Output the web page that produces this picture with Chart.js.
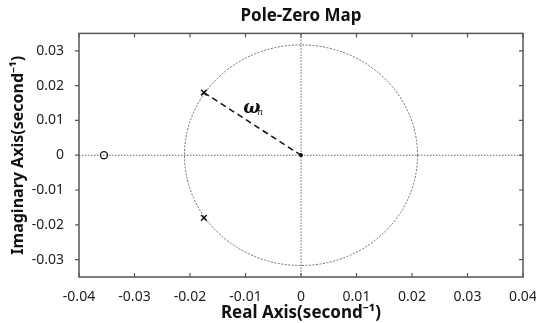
<!DOCTYPE html>
<html>
<head>
<meta charset="utf-8">
<script src="https://cdn.jsdelivr.net/npm/chart.js@4/dist/chart.umd.min.js"></script>
<style>
  html, body { margin: 0; padding: 0; background: #fff; }
  #wrap { width: 536px; height: 323px; }
</style>
</head>
<body>
<div id="wrap"><canvas id="pzChart"></canvas></div>
<script>
'use strict';

// pole / zero locations (real, imag)
let zeros = [{ x: -0.0355, y: 0 }];
let poles = [{ x: -0.0175, y: 0.018 }, { x: -0.0175, y: -0.018 }];
let origin = [{ x: 0, y: 0 }];

// natural frequency ring, half widths along each axis
let ringRx = 0.021;
let ringRy = 0.0317;
let omegaLabelPos = { x: -0.0088, y: 0.0135 };

let xTicks = [-0.04, -0.03, -0.02, -0.01, 0, 0.01, 0.02, 0.03, 0.04];
let yTicks = [-0.03, -0.02, -0.01, 0, 0.01, 0.02, 0.03];

let FONT = "'Noto Sans', 'Open Sans', sans-serif";
let frameColor = '#555';

// frame, tick marks, zero lines, the wn ring and its label
let pzDecor = {
  id: 'pzDecor',
  beforeDatasetsDraw(chart) {
    let ctx = chart.ctx;
    let a = chart.chartArea;
    let xs = chart.scales.x;
    let ys = chart.scales.y;
    let x0 = xs.getPixelForValue(0);
    let y0 = ys.getPixelForValue(0);

    ctx.save();
    ctx.strokeStyle = '#6a6a6a';
    ctx.lineWidth = 1;
    ctx.setLineDash([1.5, 1.5]);
    ctx.beginPath();
    ctx.moveTo(a.left, y0);
    ctx.lineTo(a.right, y0);
    ctx.moveTo(x0, a.top);
    ctx.lineTo(x0, a.bottom);
    ctx.stroke();

    let rxPx = xs.getPixelForValue(ringRx) - x0;
    let ryPx = y0 - ys.getPixelForValue(ringRy);
    ctx.setLineDash([2, 1.5]);
    ctx.beginPath();
    ctx.ellipse(x0, y0, rxPx, ryPx, 0, 0, Math.PI * 2);
    ctx.stroke();
    ctx.restore();
  },
  afterDatasetsDraw(chart) {
    let ctx = chart.ctx;
    let a = chart.chartArea;
    let xs = chart.scales.x;
    let ys = chart.scales.y;

    ctx.save();
    ctx.strokeStyle = frameColor;
    ctx.lineWidth = 1.5;
    ctx.strokeRect(a.left, a.top, a.right - a.left, a.bottom - a.top);

    ctx.lineWidth = 1.2;
    ctx.beginPath();
    xTicks.forEach(v => {
      let px = xs.getPixelForValue(v);
      ctx.moveTo(px, a.bottom);
      ctx.lineTo(px, a.bottom - 4);
      ctx.moveTo(px, a.top);
      ctx.lineTo(px, a.top + 4);
    });
    yTicks.forEach(v => {
      let py = ys.getPixelForValue(v);
      ctx.moveTo(a.left, py);
      ctx.lineTo(a.left - 4, py);
      ctx.moveTo(a.right, py);
      ctx.lineTo(a.right - 4, py);
    });
    ctx.stroke();

    // omega_n label
    let lx = xs.getPixelForValue(omegaLabelPos.x);
    let ly = ys.getPixelForValue(omegaLabelPos.y);
    ctx.fillStyle = '#111';
    ctx.textBaseline = 'alphabetic';
    ctx.font = "italic bold 18px 'DejaVu Serif', 'Liberation Serif', serif";
    ctx.fillText('\u03c9', lx - 9, ly + 5);
    ctx.font = "italic 9px 'DejaVu Serif', 'Liberation Serif', serif";
    ctx.fillText('n', lx + 5, ly + 7);
    ctx.restore();
  }
};

let ctx = document.getElementById('pzChart').getContext('2d');
let pzChart = new Chart(ctx, {
  type: 'scatter',
  data: {
    datasets: [
      {
        label: 'wn',
        data: [poles[0], origin[0]],
        showLine: true,
        borderColor: '#111',
        borderWidth: 1.5,
        borderDash: [6, 4],
        pointRadius: 0
      },
      {
        label: 'origin',
        data: origin,
        pointStyle: 'circle',
        pointRadius: 1.6,
        backgroundColor: '#111',
        borderColor: '#111'
      },
      {
        label: 'poles',
        data: poles,
        pointStyle: 'crossRot',
        pointRadius: 4,
        borderWidth: 1.5,
        borderColor: '#111'
      },
      {
        label: 'zeros',
        data: zeros,
        pointStyle: 'circle',
        pointRadius: 3.5,
        borderWidth: 1.3,
        backgroundColor: 'rgba(0,0,0,0)',
        borderColor: '#111'
      }
    ]
  },
  options: {
    responsive: true,
    maintainAspectRatio: false,
    animation: false,
    events: [],
    layout: { padding: { left: 0, right: 13, top: 0, bottom: 0 } },
    plugins: {
      legend: { display: false },
      tooltip: { enabled: false },
      title: {
        display: true,
        text: 'Pole-Zero Map',
        fullSize: false,
        color: '#111',
        font: { family: FONT, size: 17, weight: 'bold' },
        padding: { top: 6, bottom: 7 }
      }
    },
    scales: {
      x: {
        type: 'linear',
        min: -0.04,
        max: 0.04,
        afterBuildTicks: s => { s.ticks = xTicks.map(v => ({ value: v })); },
        afterFit: s => {
          s.height = 46;
          s.paddingLeft = 0;
          s.paddingRight = 0;
        },
        grid: { display: false },
        border: { display: false },
        ticks: {
          color: '#222',
          font: { family: FONT, size: 14 },
          padding: 4,
          maxRotation: 0,
          callback: v => String(v)
        },
        title: {
          display: true,
          text: 'Real Axis(second\u207b\u00b9)',
          color: '#111',
          font: { family: FONT, size: 17, weight: 'bold' },
          padding: { top: 0, bottom: 0 }
        }
      },
      y: {
        type: 'linear',
        min: -0.035,
        max: 0.035,
        afterBuildTicks: s => { s.ticks = yTicks.map(v => ({ value: v })); },
        afterFit: s => {
          s.width = 79;
          s.paddingTop = 0;
          s.paddingBottom = 0;
        },
        grid: { display: false },
        border: { display: false },
        ticks: {
          color: '#222',
          font: { family: FONT, size: 14 },
          padding: 7,
          callback: v => String(v)
        },
        title: {
          display: true,
          text: 'Imaginary Axis(second\u207b\u00b9)',
          color: '#111',
          font: { family: FONT, size: 16, weight: 'bold' },
          padding: { top: 9, bottom: 0 }
        }
      }
    }
  },
  plugins: [pzDecor]
});
</script>
</body>
</html>
